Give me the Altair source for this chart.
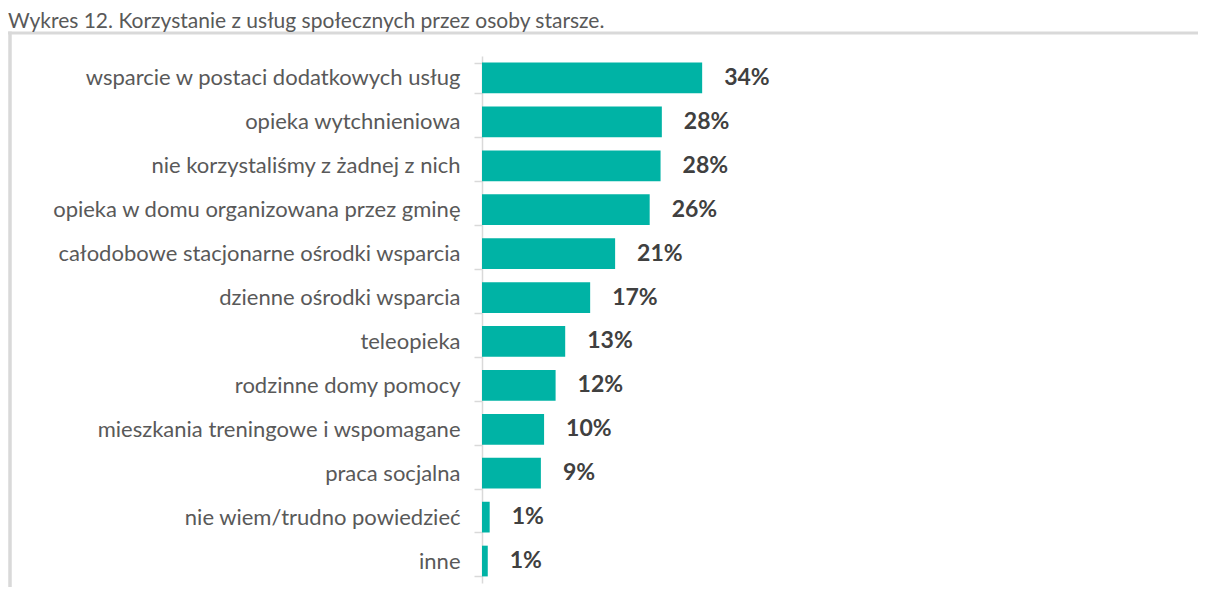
import altair as alt
import pandas as pd

title_text = "Wykres 12. Korzystanie z usług społecznych przez osoby starsze."
categories = [
    "wsparcie w postaci dodatkowych usług",
    "opieka wytchnieniowa",
    "nie korzystaliśmy z żadnej z nich",
    "opieka w domu organizowana przez gminę",
    "całodobowe stacjonarne ośrodki wsparcia",
    "dzienne ośrodki wsparcia",
    "teleopieka",
    "rodzinne domy pomocy",
    "mieszkania treningowe i wspomagane",
    "praca socjalna",
    "nie wiem/trudno powiedzieć",
    "inne",
]
values = [34.4, 28.1, 27.9, 26.2, 20.8, 16.9, 13.0, 11.5, 9.7, 9.2, 1.2, 0.9]
labels = ["34%", "28%", "28%", "26%", "21%", "17%", "13%", "12%", "10%", "9%", "1%", "1%"]

df = pd.DataFrame({"cat": categories, "val": values, "lab": labels})

W, H = 384, 527
PAD_L, PAD_T, PAD_R, PAD_B = 474, 48, 332, 4

x = alt.X("val:Q", scale=alt.Scale(domain=[0, 60]), axis=None)
y = alt.Y(
    "cat:N",
    sort=None,
    title=None,
    scale=alt.Scale(paddingInner=0.3, paddingOuter=0.15),
    axis=alt.Axis(
        tickBand="extent",
        domainColor="#d9d9d9",
        domainWidth=1.5,
        tickColor="#d9d9d9",
        tickWidth=1.5,
        tickSize=8,
        labelFont="Lato",
        labelFontSize=22,
        labelColor="#595959",
        labelPadding=14,
        labelLimit=0,
    ),
)

base = alt.Chart(df).encode(x=x, y=y)
bars = base.mark_bar(color="#00B3A5")
text = base.mark_text(
    align="left", baseline="middle", dx=22,
    font="Lato", fontSize=23, fontWeight="bold", color="#404040",
).encode(text="lab:N")

one = pd.DataFrame({"k": [0]})
frame_left = alt.Chart(one).mark_rule(color="#d9d9d9", strokeWidth=3.5).encode(
    x=alt.value(-472), y=alt.value(-24.5), y2=alt.value(H + 40)
)
frame_top = alt.Chart(one).mark_rule(color="#d9d9d9", strokeWidth=3).encode(
    x=alt.value(-474), x2=alt.value(W + PAD_R + 10), y=alt.value(-23)
)
title = alt.Chart(pd.DataFrame({"t": [title_text]})).mark_text(
    align="left", baseline="alphabetic", font="Lato", fontSize=21, color="#595959"
).encode(x=alt.value(-474), y=alt.value(-28), text="t:N")

chart = alt.layer(frame_left, frame_top, title, bars, text).properties(
    width=W,
    height=H,
    autosize=alt.AutoSizeParams(type="none"),
    padding={"left": PAD_L, "top": PAD_T, "right": PAD_R, "bottom": PAD_B},
).configure_view(stroke=None)

chart.save("out.html", embed_options={"renderer": "svg", "actions": False})
